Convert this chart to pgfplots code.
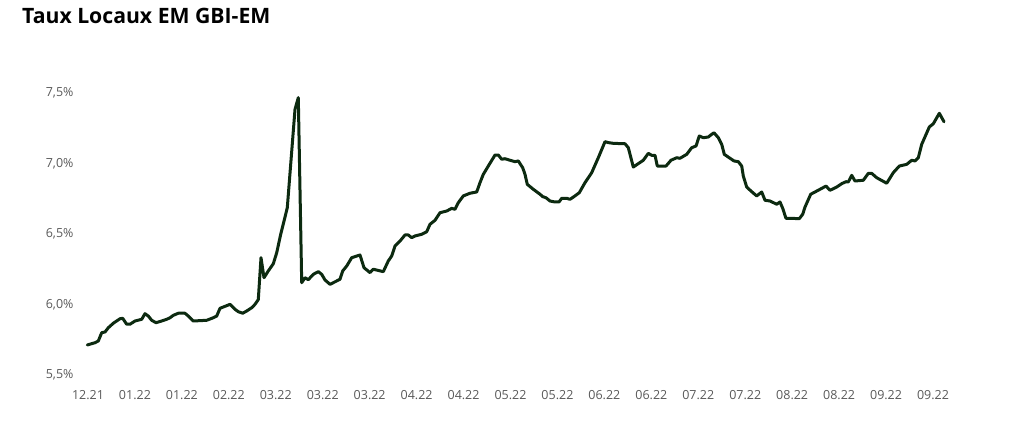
\documentclass[border=0pt]{standalone}
\usepackage{pgfplots}
\pgfplotsset{compat=1.18}
\usepackage{fontspec}
\setmainfont{Open Sans}
\definecolor{linec}{HTML}{0C2A10}
\definecolor{labc}{HTML}{595959}
\begin{document}
\begin{tikzpicture}
\path[use as bounding box] (0pt,0pt) rectangle (1011pt,425pt);
\node[anchor=base west, inner sep=0, font=\fontsize{21.2}{24}\selectfont\bfseries] at (22pt,401pt) {Taux Locaux EM GBI-EM};
\begin{axis}[at={(85pt,50pt)}, anchor=south west, scale only axis,
  width=863pt, height=282pt, xmin=85, xmax=948, ymin=5.5, ymax=7.5,
  axis line style={draw=none}, tick style={draw=none}, major tick length=0pt,
  ytick={5.5,6,6.5,7,7.5},
  yticklabels={{5,5\%},{6,0\%},{6,5\%},{7,0\%},{7,5\%}},
  xtick={88,134.94,181.89,228.83,275.78,322.72,369.67,416.61,463.56,510.5,557.44,604.39,651.33,698.28,745.22,792.17,839.11,886.06,933},
  xticklabels={12.21,01.22,01.22,02.22,03.22,03.22,03.22,04.22,04.22,05.22,05.22,06.22,06.22,07.22,07.22,08.22,08.22,09.22,09.22},
  tick label style={font=\fontsize{12.5}{14}\selectfont, text=labc},
  yticklabel style={xshift=-8pt}, xticklabel style={yshift=-12pt},
  clip=false]
\addplot[linec, line width=3pt, line join=round, line cap=round] coordinates {
(87.3,5.713)(95,5.729)(98.3,5.741)(101.7,5.800)(105,5.805)(108.3,5.835)(113.3,5.867)(120,5.899)(122.7,5.902)
(126.7,5.860)(130,5.860)(135,5.883)(141.7,5.895)(145,5.935)(148.3,5.918)(151.7,5.888)(156,5.871)(161.7,5.883)
(166.7,5.895)(170,5.906)(173.3,5.923)(178.3,5.938)(185,5.938)(188.3,5.918)(193.3,5.883)(206.7,5.888)(213.3,5.906)
(216.7,5.918)(220,5.973)(230,6.001)(235,5.966)(238.3,5.949)(242.7,5.938)(246.7,5.954)(251.7,5.977)(255,6.001)
(258.3,6.035)(261,6.332)(264,6.190)(268.3,6.238)(273.3,6.289)(276.7,6.367)(280.7,6.498)(285.7,6.640)(287.3,6.687)
(295,7.384)(298.3,7.467)(301.7,6.155)(305,6.190)(308.3,6.176)(313.3,6.214)(318.3,6.233)(321.7,6.214)(325,6.174)
(330,6.143)(336.7,6.167)(340,6.179)(342.7,6.238)(346.7,6.273)(351.7,6.332)(360,6.351)(364,6.261)(370,6.226)
(373.3,6.250)(383.3,6.233)(388.3,6.309)(391.7,6.344)(395,6.415)(400,6.450)(405,6.493)(408.3,6.493)(411.7,6.474)
(415,6.486)(421.7,6.498)(426.7,6.516)(430,6.569)(435,6.597)(440,6.651)(446.7,6.663)(451.7,6.682)(455,6.675)
(458.3,6.722)(463.3,6.770)(470,6.789)(476.7,6.798)(480,6.864)(483.3,6.923)(488.3,6.982)(495,7.060)(498.3,7.060)
(501.7,7.030)(505,7.034)(510,7.023)(515,7.013)(518.3,7.018)(522.7,6.970)(525,6.923)(527.3,6.852)(533.3,6.817)
(540,6.782)(542.7,6.765)(546,6.757)(550,6.734)(555,6.727)(559,6.727)(561.7,6.753)(566.7,6.753)(570,6.746)
(575,6.770)(579.3,6.793)(585,6.864)(591.7,6.935)(598.3,7.041)(605,7.155)(608.3,7.148)(613.3,7.143)(625,7.140)
(628.3,7.112)(633.3,6.975)(638.3,6.999)(643.3,7.023)(648.3,7.072)(651.7,7.058)(655,7.058)(657.3,6.982)(666,6.982)
(671,7.023)(676.7,7.041)(680,7.037)(686.7,7.065)(691.7,7.112)(696,7.124)(699.3,7.195)(703.3,7.183)(708.3,7.188)
(711.7,7.207)(714,7.218)(718.3,7.183)(721.7,7.136)(724.3,7.065)(730,7.037)(734,7.018)(738.3,7.013)(741.7,6.982)
(743.3,6.911)(746.7,6.833)(751.7,6.800)(756.7,6.770)(761.7,6.798)(765,6.739)(770,6.734)(776.7,6.711)(780,6.727)
(782.7,6.682)(786,6.611)(790,6.611)(799.3,6.609)(802.7,6.640)(805,6.691)(810.7,6.782)(815,6.798)(820,6.817)
(826,6.840)(830,6.810)(836.7,6.833)(841.7,6.857)(846,6.871)(848.3,6.869)(851.7,6.916)(855,6.876)(863.3,6.881)
(868.3,6.930)(871.7,6.930)(876.7,6.899)(886.7,6.860)(893.3,6.935)(899.3,6.982)(906.7,6.994)(911.7,7.023)
(915,7.018)(918.3,7.041)(921.7,7.136)(929.3,7.259)(933.3,7.282)(939.3,7.356)(944,7.296)
};
\end{axis}
\end{tikzpicture}
\end{document}
